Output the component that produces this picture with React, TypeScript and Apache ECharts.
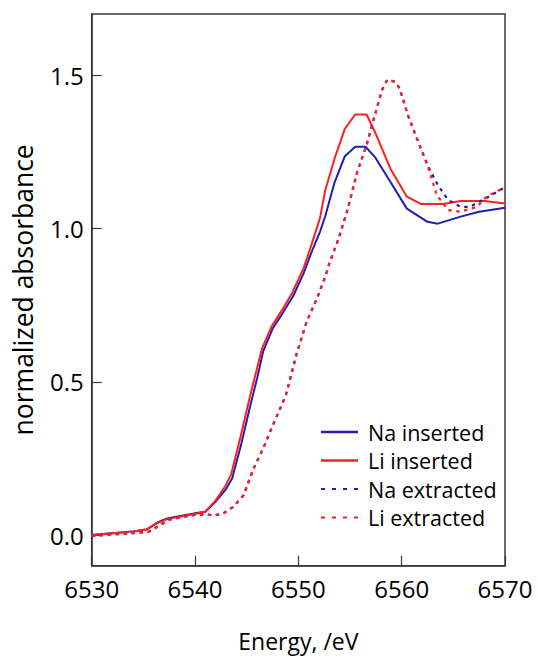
import React, { useEffect, useRef } from "react";
import * as echarts from "echarts";

const xTicks = [6530, 6540, 6550, 6560, 6570];
const yTicks = [0.0, 0.5, 1.0, 1.5];

const energyNaIns = [6530, 6532, 6534, 6535.3, 6536.3, 6537.3, 6539, 6540.3, 6541, 6542, 6543, 6543.6, 6544.5, 6545.4, 6546, 6546.6, 6547.5, 6548.5, 6549.5, 6550.5, 6551.3, 6552.1, 6552.6, 6553.5, 6554.5, 6555.5, 6556.5, 6557.4, 6558.9, 6560.5, 6562.5, 6563.5, 6565.7, 6567.5, 6570];
const absNaIns = [0.0, 0.006, 0.012, 0.018, 0.04, 0.054, 0.065, 0.073, 0.076, 0.109, 0.15, 0.185, 0.3, 0.43, 0.51, 0.6, 0.673, 0.725, 0.78, 0.853, 0.925, 0.99, 1.04, 1.15, 1.236, 1.267, 1.267, 1.234, 1.153, 1.065, 1.022, 1.016, 1.039, 1.055, 1.068];

const energyLiIns = [6530, 6532, 6534, 6535.3, 6536.3, 6537.3, 6539, 6540.3, 6541, 6542, 6542.9, 6543.5, 6544.4, 6545.3, 6545.9, 6546.5, 6547.4, 6548.4, 6549.4, 6550.5, 6551.3, 6552.1, 6552.6, 6553.5, 6554.5, 6555.5, 6556.6, 6557.4, 6558.9, 6560.5, 6561.9, 6564, 6565.7, 6568, 6570];
const absLiIns = [0.0, 0.006, 0.012, 0.018, 0.038, 0.052, 0.063, 0.071, 0.077, 0.113, 0.158, 0.198, 0.32, 0.45, 0.53, 0.61, 0.68, 0.733, 0.79, 0.87, 0.95, 1.035, 1.125, 1.228, 1.325, 1.372, 1.372, 1.316, 1.196, 1.104, 1.08, 1.08, 1.09, 1.09, 1.082];

const energyNaExt = [6530, 6532, 6534, 6535.5, 6536.5, 6537.5, 6538.5, 6540, 6541, 6541.8, 6542.7, 6543.7, 6544.7, 6545.6, 6546.6, 6547.4, 6548.1, 6548.8, 6549.8, 6550.8, 6551.8, 6552.6, 6553, 6553.9, 6554.8, 6555.7, 6556.6, 6557.4, 6558.1, 6558.6, 6559.4, 6559.8, 6560.6, 6561.6, 6562.6, 6563.5, 6564.5, 6565.7, 6566.6, 6568.1, 6569, 6570];
const absNaExt = [-0.003, 0.002, 0.006, 0.011, 0.03, 0.05, 0.057, 0.066, 0.068, 0.064, 0.07, 0.092, 0.13, 0.212, 0.283, 0.348, 0.402, 0.457, 0.587, 0.696, 0.772, 0.843, 0.886, 0.968, 1.066, 1.185, 1.272, 1.37, 1.452, 1.485, 1.479, 1.457, 1.37, 1.283, 1.2, 1.142, 1.093, 1.071, 1.071, 1.098, 1.115, 1.135];

const energyLiExt = [6530, 6532, 6534, 6535.5, 6536.5, 6537.5, 6538.5, 6540, 6541, 6541.8, 6542.7, 6543.7, 6544.7, 6545.6, 6546.6, 6547.4, 6548.1, 6548.8, 6549.8, 6550.8, 6551.8, 6552.6, 6553, 6553.9, 6554.8, 6555.7, 6556.6, 6557.4, 6558.1, 6558.6, 6559.4, 6559.8, 6560.6, 6561.6, 6562.6, 6563.4, 6564.5, 6565.7, 6567.3, 6568.2, 6570];
const absLiExt = [-0.003, 0.002, 0.006, 0.011, 0.03, 0.05, 0.057, 0.066, 0.068, 0.064, 0.07, 0.092, 0.13, 0.212, 0.283, 0.348, 0.402, 0.457, 0.587, 0.696, 0.772, 0.843, 0.886, 0.968, 1.066, 1.185, 1.272, 1.37, 1.452, 1.485, 1.479, 1.457, 1.37, 1.283, 1.196, 1.109, 1.06, 1.055, 1.071, 1.104, 1.135];

const seriesNames = ["Na inserted", "Li inserted", "Na extracted", "Li extracted"];

const BLUE = "#1f1fb0";
const RED = "#ff1f1f";
const FONT = "'Open Sans'";
const DASH = [3.5, 4.5];

const zip = (xs: number[], ys: number[]) => xs.map((x, i) => [x, ys[i]]);

export default function App() {
  const ref = useRef<HTMLDivElement>(null);
  useEffect(() => {
    if (!ref.current) return;
    const chart = echarts.init(ref.current, undefined, { renderer: "svg" });
    const colors = [BLUE, RED, BLUE, RED];
    const dashed = [false, false, true, true];
    const mk = (i: number, data: number[][]) => ({
      name: seriesNames[i],
      type: "line",
      data,
      showSymbol: false,
      symbol: "none",
      z: 2 + i,
      lineStyle: dashed[i]
        ? { color: colors[i], width: 2.2, type: DASH, cap: "butt" }
        : { color: colors[i], width: 2 },
      itemStyle: { color: colors[i] },
    });
    const legendGraphics: any[] = [];
    seriesNames.forEach((name, i) => {
      const y = 432 + i * 28.5;
      legendGraphics.push({
        type: "line",
        shape: { x1: 321, y1: y, x2: 358, y2: y },
        style: dashed[i]
          ? { stroke: colors[i], lineWidth: 2, lineDash: [4, 7] }
          : { stroke: colors[i], lineWidth: 2.5 },
      });
      legendGraphics.push({
        type: "text",
        x: 368,
        y,
        style: {
          text: name,
          fontFamily: FONT,
          fontSize: 21.5,
          fill: "#000",
          textVerticalAlign: "middle",
          verticalAlign: "middle",
        },
      });
    });
    chart.setOption({
      animation: false,
      backgroundColor: "#ffffff",
      grid: {
        left: 91.7,
        right: 33,
        top: 14,
        bottom: 90.3,
        outerBoundsMode: "none",
        containLabel: false,
        show: true,
        borderColor: "#3a3a3a",
        borderWidth: 1.5,
        backgroundColor: "transparent",
      },
      graphic: legendGraphics,
      xAxis: {
        type: "value",
        min: 6530,
        max: 6570,
        interval: 10,
        name: "Energy, /eV",
        nameLocation: "middle",
        nameGap: 64,
        nameTextStyle: { fontFamily: FONT, fontSize: 23, lineHeight: 22, color: "#000" },
        axisLine: { show: true, onZero: false, lineStyle: { color: "#3a3a3a", width: 1.5 } },
        axisTick: { show: true, inside: true, length: 10, lineStyle: { color: "#3a3a3a", width: 1.2 } },
        axisLabel: { fontFamily: FONT, fontSize: 24, color: "#000", margin: 11, formatter: (v: number) => String(v) },
        splitLine: { show: false },
      },
      yAxis: {
        type: "value",
        min: -0.1,
        max: 1.7,
        name: "normalized absorbance",
        nameLocation: "middle",
        nameGap: 55,
        nameRotate: 90,
        nameTextStyle: { fontFamily: FONT, fontSize: 26.5, color: "#000" },
        axisLine: { show: true, onZero: false, lineStyle: { color: "#3a3a3a", width: 1.5 } },
        axisTick: { show: true, inside: true, length: 10, lineStyle: { color: "#3a3a3a", width: 1.2 }, customValues: yTicks },
        axisLabel: {
          fontFamily: FONT,
          fontSize: 24,
          color: "#000",
          margin: 8,
          customValues: yTicks,
          formatter: (v: number) => v.toFixed(1),
        },
        splitLine: { show: false },
      },
      series: [
        mk(0, zip(energyNaIns, absNaIns)),
        mk(1, zip(energyLiIns, absLiIns)),
        mk(2, zip(energyNaExt, absNaExt)),
        mk(3, zip(energyLiExt, absLiExt)),
      ],
    });
    return () => chart.dispose();
  }, []);
  return <div ref={ref} style={{ position: "fixed", left: 0, top: 0, width: 538, height: 656 }} />;
}
